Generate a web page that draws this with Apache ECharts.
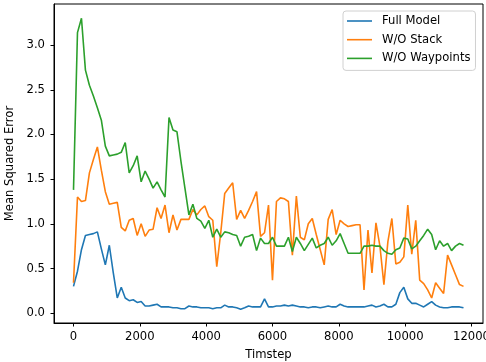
<!DOCTYPE html>
<html>
<head>
<meta charset="utf-8">
<script src="https://cdn.jsdelivr.net/npm/echarts@6/dist/echarts.min.js"></script>
<style>
  html, body { margin: 0; padding: 0; background: #fff; }
  #chart { width: 486px; height: 362px; }
</style>
</head>
<body>
<div id="chart"></div>
<script>
// evaluation every 120 steps
const STEP = 120

const fullModel = [
  0.30, 0.47, 0.71, 0.87, 0.88, 0.89, 0.91, 0.72, 0.54, 0.76,
  0.45, 0.17, 0.29, 0.17, 0.14, 0.15, 0.12, 0.13, 0.08, 0.08,
  0.09, 0.10, 0.07, 0.07, 0.07, 0.06, 0.06, 0.05, 0.05, 0.08,
  0.07, 0.07, 0.06, 0.06, 0.06, 0.05, 0.06, 0.06, 0.09, 0.07,
  0.07, 0.06, 0.045, 0.06, 0.08, 0.07, 0.07, 0.07, 0.16, 0.07,
  0.07, 0.08, 0.08, 0.09, 0.08, 0.09, 0.08, 0.07, 0.07, 0.06,
  0.07, 0.07, 0.06, 0.07, 0.08, 0.07, 0.07, 0.10, 0.08, 0.07,
  0.07, 0.07, 0.07, 0.07, 0.08, 0.09, 0.07, 0.08, 0.10, 0.07,
  0.07, 0.10, 0.23, 0.29, 0.16, 0.11, 0.11, 0.09, 0.07, 0.10,
  0.13, 0.09, 0.07, 0.06, 0.06, 0.07, 0.07, 0.07, 0.06
]

const noStack = [
  0.34, 1.30, 1.25, 1.26, 1.57, 1.72, 1.86, 1.60, 1.36, 1.22,
  1.23, 1.24, 0.96, 0.92, 1.04, 1.06, 0.87, 1.00, 0.86, 0.93,
  0.94, 1.18, 1.06, 1.21, 0.90, 1.10, 0.93, 1.05, 1.05, 1.05,
  1.16, 1.10, 1.16, 1.20, 1.08, 1.04, 0.52, 0.90, 1.34, 1.40,
  1.46, 1.05, 1.15, 1.06, 1.15, 1.25, 1.36, 0.86, 0.90, 1.21,
  0.37, 1.25, 1.29, 1.28, 1.25, 0.65, 1.31, 0.85, 0.82, 1.00,
  1.06, 0.88, 0.71, 0.54, 1.05, 1.16, 0.88, 1.04, 1.00, 0.97,
  0.98, 0.99, 0.99, 0.26, 0.93, 0.45, 1.01, 0.75, 0.32, 0.80,
  1.06, 0.55, 0.57, 0.63, 1.21, 0.66, 1.04, 0.37, 0.33, 0.26,
  0.17, 0.34, 0.28, 0.22, 0.65, 0.54, 0.43, 0.32, 0.30
]

const noWaypoints = [
  1.38, 3.14, 3.30, 2.72, 2.55, 2.43, 2.30, 2.16, 1.87, 1.76,
  1.77, 1.78, 1.80, 1.91, 1.57, 1.65, 1.76, 1.47, 1.59, 1.50,
  1.40, 1.47, 1.38, 1.30, 2.19, 2.05, 2.03, 1.70, 1.40, 1.10,
  1.22, 1.06, 1.03, 0.95, 1.04, 0.85, 0.94, 0.85, 0.91, 0.90,
  0.88, 0.87, 0.75, 0.85, 0.86, 0.88, 0.70, 0.84, 0.78, 0.78,
  0.85, 0.75, 0.75, 0.75, 0.85, 0.69, 0.85, 0.78, 0.70, 0.77,
  0.84, 0.73, 0.76, 0.78, 0.85, 0.76, 0.81, 0.89, 0.78, 0.67,
  0.67, 0.67, 0.67, 0.75, 0.75, 0.76, 0.75, 0.75, 0.70, 0.67,
  0.66, 0.71, 0.73, 0.84, 0.83, 0.72, 0.75, 0.81, 0.87, 0.94,
  0.88, 0.71, 0.81, 0.75, 0.78, 0.70, 0.75, 0.78, 0.76
]

const seriesNames = ['Full Model', 'W/O Stack', 'W/O Waypoints']
const seriesColors = ['#1f77b4', '#ff7f0e', '#2ca02c']
const xTicks = [0, 2000, 4000, 6000, 8000, 10000, 12000]
const yTicks = [0, 0.5, 1.0, 1.5, 2.0, 2.5, 3.0]

const toPairs = (vals) => vals.map((v, i) => [i * STEP, v])

const font = 'DejaVu Sans'
const fs = 11.6
const chart = echarts.init(document.getElementById('chart'), null, { renderer: 'canvas' })

chart.setOption({
  animation: false,
  backgroundColor: '#fff',
  color: seriesColors,
  grid: {
    left: 54, right: 3, top: 4, bottom: 39,
    outerBoundsMode: 'none',
    show: true, borderColor: '#000', borderWidth: 1, backgroundColor: 'transparent'
  },
  legend: {
    orient: 'vertical',
    left: 343, top: 11,
    data: seriesNames.map((n) => ({ name: n, icon: 'rect' })),
    itemWidth: 25, itemHeight: 1.6, itemGap: 4.7,
    padding: [3, 5, 5, 4],
    backgroundColor: '#fff',
    borderColor: '#d0d0d0', borderWidth: 1, borderRadius: 3,
    textStyle: { fontFamily: font, fontSize: fs, lineHeight: 14, color: '#000', padding: [0, 0, 0, 5] }
  },
  xAxis: {
    type: 'value',
    min: -588, max: 12348,
    name: 'Timstep', nameLocation: 'middle', nameGap: 26,
    nameTextStyle: { fontFamily: font, fontSize: fs, color: '#000' },
    splitLine: { show: false },
    axisLine: { show: true, onZero: false, lineStyle: { color: '#000', width: 1 } },
    axisTick: { show: true, length: 3.5, lineStyle: { color: '#000' }, customValues: xTicks },
    axisLabel: {
      fontFamily: font, fontSize: fs, color: '#000', margin: 8,
      customValues: xTicks,
      formatter: (v) => String(v)
    }
  },
  yAxis: {
    type: 'value',
    min: -0.11, max: 3.46,
    name: 'Mean Squared Error', nameLocation: 'middle', nameGap: 22,
    nameTextStyle: { fontFamily: font, fontSize: fs, color: '#000' },
    splitLine: { show: false },
    axisLine: { show: true, onZero: false, lineStyle: { color: '#000', width: 1 } },
    axisTick: { show: true, length: 3.5, lineStyle: { color: '#000' }, customValues: yTicks },
    axisLabel: {
      fontFamily: font, fontSize: fs, color: '#000', margin: 9,
      customValues: yTicks,
      formatter: (v) => v.toFixed(1)
    }
  },
  series: [
    { name: seriesNames[0], type: 'line', data: toPairs(fullModel), symbol: 'none', lineStyle: { width: 1.6 } },
    { name: seriesNames[1], type: 'line', data: toPairs(noStack), symbol: 'none', lineStyle: { width: 1.6 } },
    { name: seriesNames[2], type: 'line', data: toPairs(noWaypoints), symbol: 'none', lineStyle: { width: 1.6 } }
  ]
})
</script>
</body>
</html>
